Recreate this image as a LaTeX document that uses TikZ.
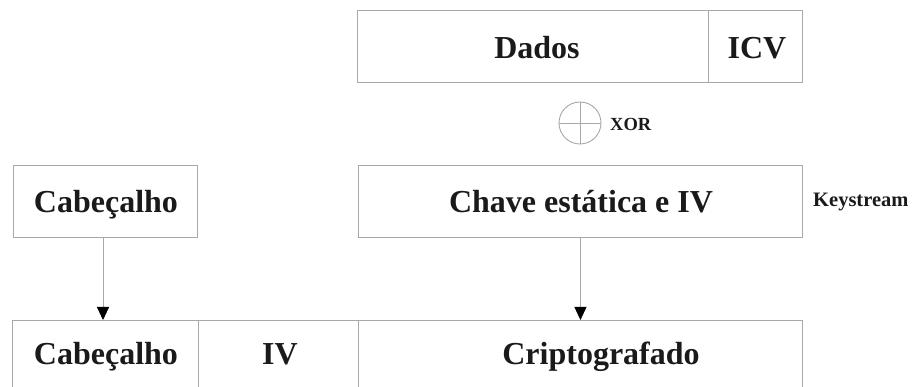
\documentclass[tikz,border=0pt]{standalone}
\usepackage{fontspec}
\setmainfont{Liberation Serif}
\usetikzlibrary{arrows.meta}
\definecolor{lc}{HTML}{A8A8A8}
\definecolor{tc}{HTML}{1A1A1A}
\tikzset{
  box/.style={draw=lc, line width=0.9pt, minimum width=#1, minimum height=72pt, inner sep=0pt, anchor=north west},
  big/.style={font=\bfseries\fontsize{32}{32}\selectfont, text=tc, inner sep=0pt, anchor=base},
  small/.style={font=\bfseries\fontsize{20.5}{20.5}\selectfont, text=tc, inner sep=0pt, anchor=base west},
  arr/.style={draw=lc, line width=0.9pt, -{Triangle[length=13pt,width=12pt,color=black]}},
  ln/.style={draw=lc, line width=0.9pt}
}
\begin{document}
\begin{tikzpicture}[x=1pt,y=-1pt]
\useasboundingbox (0,0) rectangle (914,387);
\clip (0,0) rectangle (914,387);
% top row
\node[box=351pt] (dados) at (357,10) {};
\node[box=94pt] (icv) at (708,10) {};
\node[big] (tdados) at (537,59) {Dados};
\node[big] (ticv) at (757,59) {ICV};
% XOR
\node[draw=lc, line width=0.9pt, circle, minimum size=42pt, inner sep=0pt] (xor) at (580,123) {};
\draw[ln] (xor.north) -- (xor.south);
\draw[ln] (xor.west) -- (xor.east);
\node[font=\bfseries\fontsize{18.5}{18.5}\selectfont, text=tc, inner sep=0pt, anchor=base west] (txor) at (610,131) {XOR};
% middle row
\node[box=184pt] (cab) at (13,165) {};
\node[big] (tcab) at (106,213) {Cabeçalho};
\node[box=444pt] (chave) at (358,165) {};
\node[big] (tchave) at (581,213) {Chave estática e IV};
\node[small] (tks) at (813,207) {Keystream};
% bottom row
\node[box=186pt, minimum height=90pt] (bcab) at (12,320) {};
\node[box=160pt, minimum height=90pt] (biv) at (198,320) {};
\node[box=444pt, minimum height=90pt] (bcri) at (358,320) {};
\node[big] (tbcab) at (106,365) {Cabeçalho};
\node[big] (tbiv) at (280,365) {IV};
\node[big] (tbcri) at (601,365) {Criptografado};
% arrows
\draw[arr] (cab.south -| 103,0) -- (bcab.north -| 103,0);
\draw[arr] (chave.south) -- (chave.south |- bcri.north);
\end{tikzpicture}
\end{document}
